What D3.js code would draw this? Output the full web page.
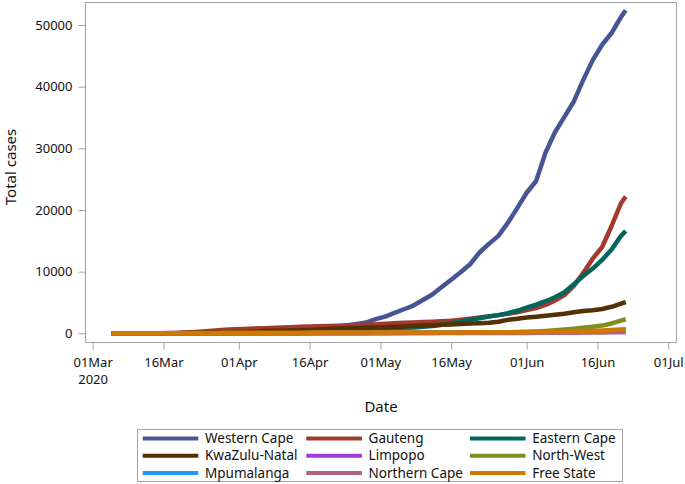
<!DOCTYPE html>
<html><head><meta charset="utf-8">
<script src="https://cdn.jsdelivr.net/npm/d3@7"></script>
<style>
html,body{margin:0;padding:0;background:#fff;}
svg text{font-family:"Noto Sans","DejaVu Sans",sans-serif;fill:#111;}
</style></head>
<body><svg id="c" width="685" height="484"></svg>
<script>
const dates = ["2020-03-05","2020-03-07","2020-03-09","2020-03-11","2020-03-13","2020-03-15","2020-03-17","2020-03-19","2020-03-21","2020-03-23","2020-03-25","2020-03-27","2020-03-29","2020-03-31",
"2020-04-02","2020-04-04","2020-04-06","2020-04-08","2020-04-10","2020-04-12","2020-04-14","2020-04-16","2020-04-18","2020-04-20","2020-04-22","2020-04-24","2020-04-26","2020-04-28","2020-04-30",
"2020-05-02","2020-05-04","2020-05-06","2020-05-08","2020-05-10","2020-05-12","2020-05-14","2020-05-16","2020-05-18","2020-05-20","2020-05-22","2020-05-24","2020-05-26","2020-05-28","2020-05-30",
"2020-06-01","2020-06-03","2020-06-05","2020-06-07","2020-06-09","2020-06-11","2020-06-13","2020-06-15","2020-06-17","2020-06-19","2020-06-21","2020-06-22"];

const westernCape = [0,0,0,0,3,7,19,40,80,130,180,230,270,310,
370,440,490,540,580,620,680,750,830,900,1030,1250,1500,1750,2300,
2700,3300,3900,4500,5400,6300,7500,8700,9900,11200,13100,14500,15800,17900,20300,
22800,24700,29300,32600,35100,37600,41100,44300,46800,48700,51300,52400];
const gauteng = [0,0,1,2,6,15,30,60,120,210,320,450,560,650,
700,760,820,880,940,1000,1060,1110,1150,1190,1240,1300,1350,1400,1450,
1550,1620,1700,1760,1820,1880,1950,2050,2200,2380,2550,2750,2950,3150,3400,
3750,4100,4600,5300,6200,7700,9800,12100,14000,17400,21100,22200];
const easternCape = [0,0,0,0,0,0,1,2,5,10,15,20,25,35,
50,70,90,110,140,200,260,320,380,440,500,550,600,640,680,
740,800,880,960,1050,1200,1400,1650,1900,2200,2450,2700,2950,3280,3650,
4150,4650,5200,5850,6650,7950,9300,10500,11900,13600,15800,16600];
const kwaZuluNatal = [1,1,1,2,4,7,12,20,40,70,110,140,170,190,
230,280,360,400,430,460,480,540,620,700,760,830,880,920,960,
1000,1060,1120,1200,1250,1320,1380,1440,1520,1580,1640,1700,1880,2180,2350,
2550,2700,2850,3000,3180,3400,3600,3750,3950,4300,4800,5050];
const limpopo = [0,0,0,0,0,0,1,3,6,9,12,15,18,20,
22,24,25,25,26,27,28,30,32,34,36,38,40,42,44,
46,48,50,55,60,65,70,75,80,85,90,100,110,120,130,
140,155,170,190,210,230,260,290,320,370,430,470];
const northWest = [0,0,0,0,0,0,0,0,1,3,5,7,10,12,
15,17,20,22,24,25,27,30,33,36,40,45,50,55,60,
65,70,75,80,85,90,95,100,110,120,130,140,160,180,200,
240,300,380,480,600,750,900,1060,1250,1600,2050,2280];
const mpumalanga = [0,0,0,0,0,0,0,2,5,7,9,12,14,17,
19,21,22,23,23,24,25,26,28,30,32,36,40,45,50,
55,60,65,70,72,75,78,80,82,85,88,90,92,95,100,
110,120,135,150,170,190,210,240,270,310,370,400];
const northernCape = [0,0,0,0,0,0,0,0,2,4,6,8,10,12,
14,16,16,16,16,17,17,18,18,20,22,24,26,28,30,
32,34,36,38,40,42,44,46,48,50,52,54,56,58,60,
65,70,75,80,90,100,110,120,135,150,175,190];
const freeState = [0,0,0,0,1,5,10,15,30,40,50,60,70,80,
85,90,95,100,100,100,100,105,110,115,120,120,125,125,130,
130,135,135,140,140,145,145,150,150,155,160,165,170,175,180,
190,200,220,240,270,300,340,390,450,520,600,650];

const seriesNames = ["Western Cape","Gauteng","Eastern Cape","KwaZulu-Natal","Limpopo","North-West","Mpumalanga","Northern Cape","Free State"];
const seriesValues = [westernCape,gauteng,easternCape,kwaZuluNatal,limpopo,northWest,mpumalanga,northernCape,freeState];
const seriesColors = ["#445694","#A23A2E","#01665E","#543005","#9D3CDB","#7F8E1F","#2597FA","#B26084","#D17800"];

const xTickDates = ["2020-03-01","2020-03-16","2020-04-01","2020-04-16","2020-05-01","2020-05-16","2020-06-01","2020-06-16","2020-07-01"];
const xTickLabels = ["01Mar","16Mar","01Apr","16Apr","01May","16May","01Jun","16Jun","01Jul"];
const yTicks = [0,10000,20000,30000,40000,50000];

const svg = d3.select("#c");
const parse = d3.utcParse("%Y-%m-%d");
const x = d3.scaleUtc().domain([parse("2020-03-01"), parse("2020-07-01")]).range([92.6, 668.2]);
const y = d3.scaleLinear().domain([0, 50000]).range([333.3, 25]);
const frame = {l:85.5, r:676.5, t:2.5, b:342.5};
const grey = "#a3a3a3";

svg.append("rect").attr("x",frame.l).attr("y",frame.t).attr("width",frame.r-frame.l).attr("height",frame.b-frame.t)
  .attr("fill","none").attr("stroke",grey).attr("stroke-width",1);

const ya = svg.append("g").attr("transform",`translate(${frame.l},0)`)
  .call(d3.axisLeft(y).tickValues(yTicks).tickFormat(d3.format("d")).tickSize(7).tickPadding(6));
ya.select(".domain").remove();
ya.selectAll(".tick line").attr("stroke",grey);
ya.selectAll(".tick text").attr("font-size","13px").attr("fill","#111").attr("font-family","Noto Sans");

const xa = svg.append("g").attr("transform",`translate(0,${frame.b})`)
  .call(d3.axisBottom(x).tickValues(xTickDates.map(parse)).tickFormat((d,i)=>xTickLabels[i]).tickSize(7).tickPadding(8));
xa.select(".domain").remove();
xa.selectAll(".tick line").attr("stroke",grey);
xa.selectAll(".tick text").attr("font-size","13px").attr("fill","#111").attr("font-family","Noto Sans");
xa.selectAll(".tick").filter((d,i)=>i===0).append("text")
  .attr("y",32).attr("dy","0.71em").attr("text-anchor","middle").attr("font-size","13px").attr("fill","#111").text("2020");

svg.append("text").attr("transform","translate(10.5,167) rotate(-90)").attr("text-anchor","middle")
  .attr("dy","0.35em").attr("font-size","15px").text("Total cases");
svg.append("text").attr("x",381).attr("y",407).attr("text-anchor","middle").attr("dy","0.35em")
  .attr("font-size","15px").text("Date");

const pDates = dates.map(parse);
svg.append("defs").append("clipPath").attr("id","pc").append("rect")
  .attr("x",frame.l+0.5).attr("y",frame.t+0.5).attr("width",frame.r-frame.l-1).attr("height",frame.b-frame.t-1);
const line = d3.line().x((d,i)=>x(pDates[i])).y(d=>y(d));
const lg = svg.append("g").attr("clip-path","url(#pc)");
seriesValues.forEach((vals,k)=>{
  lg.append("path").attr("d",line(vals)).attr("fill","none").attr("stroke",seriesColors[k])
    .attr("stroke-width",4.5).attr("stroke-linejoin","round");
});

const leg = svg.append("g");
leg.append("rect").attr("x",137.5).attr("y",429.5).attr("width",485).attr("height",52)
  .attr("fill","none").attr("stroke",grey);
seriesNames.forEach((n,k)=>{
  const col = k%3, row = Math.floor(k/3);
  const x0 = 142.7 + col*163.6, yy = 438.5 + row*17.2;
  leg.append("line").attr("x1",x0).attr("x2",x0+55.6).attr("y1",yy).attr("y2",yy)
    .attr("stroke",seriesColors[k]).attr("stroke-width",4);
  leg.append("text").attr("x",x0+62.3).attr("y",yy).attr("dy","0.35em").attr("font-size","13.5px").text(n);
});
</script></body></html>
